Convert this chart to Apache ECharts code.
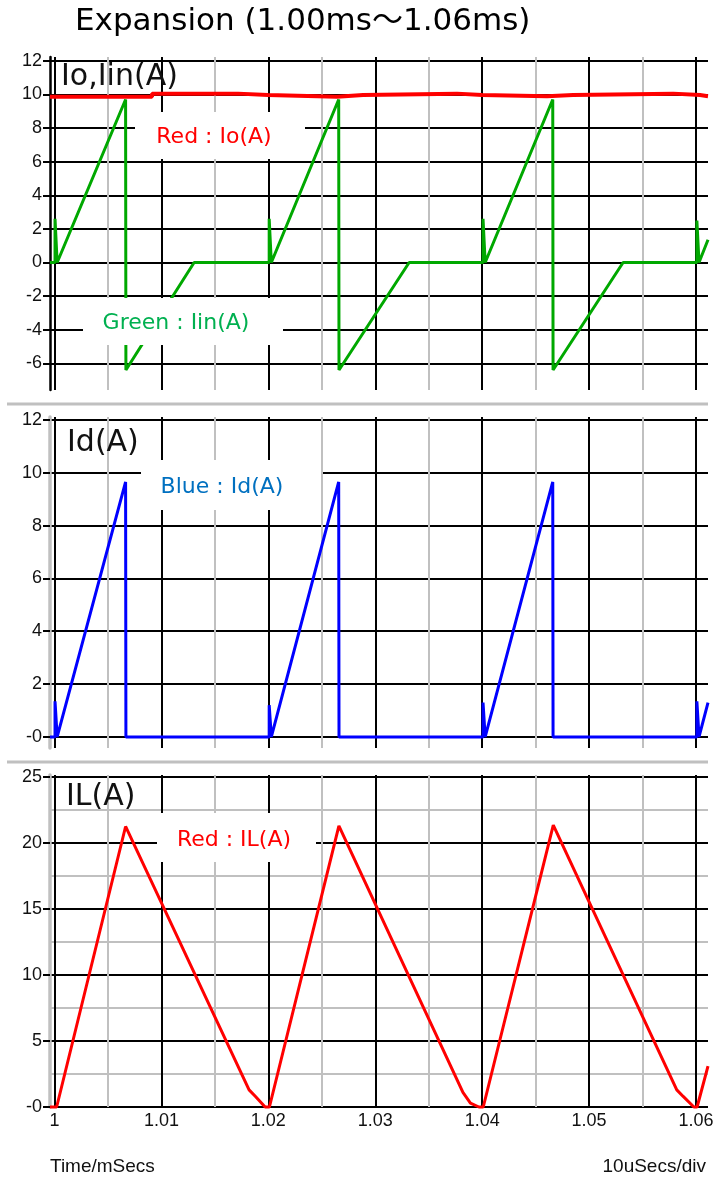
<!DOCTYPE html>
<html><head><meta charset="utf-8">
<script src="https://cdn.jsdelivr.net/npm/echarts@6/dist/echarts.min.js"></script>
<style>html,body{margin:0;padding:0;background:#fff}#c{width:722px;height:1178px}</style>
</head><body><div id="c"></div>
<script>
// ---- axis ranges & ticks ----
const xRange = [0.99958, 1.06112];
const xGridTicks = [1.000, 1.005, 1.010, 1.015, 1.020, 1.025, 1.030, 1.035, 1.040, 1.045, 1.050, 1.055, 1.060];
const xLabelTicks = [1.00, 1.01, 1.02, 1.03, 1.04, 1.05, 1.06];
const xLabels = ['1', '1.01', '1.02', '1.03', '1.04', '1.05', '1.06'];

const y1Range = [-7.59, 12.23];
const y1Ticks = [-6, -4, -2, 0, 2, 4, 6, 8, 10, 12];
const y1Labels = ['-6', '-4', '-2', '0', '2', '4', '6', '8', '10', '12'];

const y2Range = [-0.42, 12.11];
const y2Ticks = [0, 2, 4, 6, 8, 10, 12];
const y2Labels = ['-0', '2', '4', '6', '8', '10', '12'];

const y3Range = [0, 25.15];
const y3GridTicks = [0, 2.5, 5, 7.5, 10, 12.5, 15, 17.5, 20, 22.5, 25];
const y3Ticks = [0, 5, 10, 15, 20, 25];
const y3Labels = ['-0', '5', '10', '15', '20', '25'];

// ---- series values (time in ms, current in A) ----
const ioTime = [0.99958, 1.00912, 1.01717, 1.01997, 1.02643, 1.02886, 1.03765, 1.03999, 1.04607, 1.04850, 1.05786, 1.06038, 1.06112];
const ioAmps = [9.87, 10.05, 9.97, 9.87, 9.97, 10.05, 9.97, 9.90, 9.97, 10.05, 9.97, 9.90, 9.90];

const iinTime = [0.99958, 1.00005, 1.00005, 1.00025, 1.00665, 1.00668, 1.01306, 1.02008, 1.02008, 1.02028, 1.02658, 1.02661, 1.03317, 1.04008, 1.04008, 1.04028, 1.04660, 1.04663, 1.05318, 1.06008, 1.06008, 1.06028, 1.06112];
const iinAmps = [0, 0, 2.6, 0, 9.7, -6.4, 0, 0, 2.6, 0, 9.7, -6.4, 0, 0, 2.6, 0, 9.7, -6.4, 0, 0, 2.5, 0, 1.35];

const idTime = [0.99958, 1.00005, 1.00005, 1.00025, 1.00665, 1.00668, 1.02008, 1.02008, 1.02028, 1.02658, 1.02661, 1.04008, 1.04008, 1.04028, 1.04660, 1.04663, 1.06008, 1.06008, 1.06028, 1.06112];
const idAmps = [0, 0, 1.35, 0, 9.65, 0, 0, 1.2, 0, 9.65, 0, 0, 1.3, 0, 9.65, 0, 0, 1.35, 0, 1.3];

const ilTime = [0.99958, 1.0002, 1.00665, 1.0182, 1.0188, 1.0197, 1.0201, 1.02660, 1.0382, 1.0389, 1.0397, 1.0401, 1.04665, 1.0582, 1.0588, 1.0598, 1.0601, 1.06112];
const ilAmps = [0, 0, 21.25, 1.3, 0.8, 0, 0, 21.3, 1.1, 0.3, 0, 0, 21.35, 1.3, 0.8, 0, 0, 3.1];

const zip = (t, v) => t.map((x, i) => [x, v[i]]);
const lookup = (ticks, labels) => (v) => { const i = ticks.findIndex(t => Math.abs(t - v) < 1e-9); return i < 0 ? '' : labels[i]; };

const BLACK = '#000', GRAY = '#c0c0c0';
const tickFont = { fontFamily: 'Liberation Sans', fontSize: 18, color: '#111' };
const grids = [
  { left: 50, right: 14, top: 57, height: 333 },
  { left: 50, right: 14, top: 417, height: 331 },
  { left: 50, right: 14, top: 775, height: 332 }
];

function xAxisFor(gi, withLabels) {
  return {
    type: 'value', gridIndex: gi, min: xRange[0], max: xRange[1],
    axisLine: { show: false },
    axisTick: { show: false, customValues: xGridTicks },
    splitLine: { show: true, lineStyle: { color: [BLACK, GRAY], width: 2 } },
    axisLabel: withLabels ? Object.assign({ show: true, customValues: xLabelTicks, margin: 5, formatter: lookup(xLabelTicks, xLabels) }, tickFont) : { show: false }
  };
}

const option = {
  animation: false,
  backgroundColor: '#fff',
  grid: grids,
  xAxis: [xAxisFor(0, false), xAxisFor(1, false), xAxisFor(2, true)],
  yAxis: [
    { type: 'value', gridIndex: 0, min: y1Range[0], max: y1Range[1], position: 'left',
      axisLine: { show: true, lineStyle: { color: BLACK, width: 2.5 } },
      axisTick: { show: true, customValues: y1Ticks, length: 7, lineStyle: { color: BLACK, width: 2 } },
      axisLabel: Object.assign({ customValues: y1Ticks, margin: 8, formatter: lookup(y1Ticks, y1Labels) }, tickFont),
      splitLine: { show: true, lineStyle: { color: BLACK, width: 2 } } },
    { type: 'value', gridIndex: 1, min: y2Range[0], max: y2Range[1], position: 'left',
      axisLine: { show: true, lineStyle: { color: GRAY, width: 3.5 } },
      axisTick: { show: true, customValues: y2Ticks, length: 7, lineStyle: { color: BLACK, width: 2 } },
      axisLabel: Object.assign({ customValues: y2Ticks, margin: 8, formatter: lookup(y2Ticks, y2Labels) }, tickFont),
      splitLine: { show: true, lineStyle: { color: BLACK, width: 2 } } },
    { type: 'value', gridIndex: 2, min: y3Range[0], max: y3Range[1], position: 'left',
      axisLine: { show: false },
      axisTick: { show: false, customValues: y3GridTicks },
      axisLabel: { show: false },
      splitLine: { show: true, lineStyle: { color: [BLACK, GRAY], width: 2 } } },
    { type: 'value', gridIndex: 2, min: y3Range[0], max: y3Range[1], position: 'left', offset: 0,
      axisLine: { show: true, lineStyle: { color: GRAY, width: 3.5 } },
      axisTick: { show: true, customValues: y3Ticks, length: 7, lineStyle: { color: BLACK, width: 2 } },
      axisLabel: Object.assign({ customValues: y3Ticks, margin: 8, formatter: lookup(y3Ticks, y3Labels) }, tickFont),
      splitLine: { show: false } }
  ],
  series: [
    { type: 'line', xAxisIndex: 0, yAxisIndex: 0, data: zip(ioTime, ioAmps), step: 'end', showSymbol: false, symbol: 'none', clip: false, lineStyle: { color: '#ff0000', width: 4 }, z: 3 },
    { type: 'line', xAxisIndex: 0, yAxisIndex: 0, data: zip(iinTime, iinAmps), showSymbol: false, symbol: 'none', clip: false, lineStyle: { color: '#00a800', width: 3 }, z: 2 },
    { type: 'line', xAxisIndex: 1, yAxisIndex: 1, data: zip(idTime, idAmps), showSymbol: false, symbol: 'none', clip: false, lineStyle: { color: '#0000ff', width: 3 }, z: 2 },
    { type: 'line', xAxisIndex: 2, yAxisIndex: 2, data: zip(ilTime, ilAmps), showSymbol: false, symbol: 'none', clip: false, lineStyle: { color: '#ff0000', width: 3 }, z: 2 }
  ],
  graphic: [
    { type: 'line', z: 50, shape: { x1: 7, y1: 404, x2: 708, y2: 404 }, style: { stroke: GRAY, lineWidth: 3 } },
    { type: 'line', z: 50, shape: { x1: 7, y1: 762, x2: 708, y2: 762 }, style: { stroke: GRAY, lineWidth: 3 } },
    { type: 'text', z: 100, style: { text: 'Expansion (1.00ms～1.06ms)', x: 75, y: 22, textVerticalAlign: 'middle', fill: '#000', fontSize: 31, fontFamily: '"DejaVu Sans","Noto Sans CJK JP"' } },
    { type: 'text', z: 100, style: { text: 'Io,Iin(A)', x: 61, y: 77, textVerticalAlign: 'middle', fill: '#111', fontSize: 30, fontFamily: 'DejaVu Sans' } },
    { type: 'text', z: 100, style: { text: 'Id(A)', x: 67, y: 443, textVerticalAlign: 'middle', fill: '#111', fontSize: 30, fontFamily: 'DejaVu Sans' } },
    { type: 'text', z: 100, style: { text: 'IL(A)', x: 66, y: 797, textVerticalAlign: 'middle', fill: '#111', fontSize: 30, fontFamily: 'DejaVu Sans' } },
    { type: 'rect', z: 90, shape: { x: 135, y: 112, width: 170, height: 47 }, style: { fill: '#fff' } },
    { type: 'text', z: 100, style: { text: 'Red : Io(A)', x: 214, y: 137, textAlign: 'center', textVerticalAlign: 'middle', fill: '#ff0000', fontSize: 22, fontFamily: 'DejaVu Sans' } },
    { type: 'rect', z: 90, shape: { x: 83, y: 298, width: 200, height: 47 }, style: { fill: '#fff' } },
    { type: 'text', z: 100, style: { text: 'Green : Iin(A)', x: 176, y: 323, textAlign: 'center', textVerticalAlign: 'middle', fill: '#00b050', fontSize: 22, fontFamily: 'DejaVu Sans' } },
    { type: 'rect', z: 90, shape: { x: 141, y: 460, width: 180, height: 50 }, style: { fill: '#fff' } },
    { type: 'text', z: 100, style: { text: 'Blue : Id(A)', x: 222, y: 487, textAlign: 'center', textVerticalAlign: 'middle', fill: '#0070c0', fontSize: 22, fontFamily: 'DejaVu Sans' } },
    { type: 'rect', z: 90, shape: { x: 157, y: 813, width: 159, height: 49 }, style: { fill: '#fff' } },
    { type: 'text', z: 100, style: { text: 'Red : IL(A)', x: 234, y: 840, textAlign: 'center', textVerticalAlign: 'middle', fill: '#ff0000', fontSize: 22, fontFamily: 'DejaVu Sans' } },
    { type: 'text', z: 100, style: { text: 'Time/mSecs', x: 50, y: 1167, textVerticalAlign: 'middle', fill: '#111', fontSize: 19, fontFamily: 'Liberation Sans' } },
    { type: 'text', z: 100, style: { text: '10uSecs/div', x: 706, y: 1167, textAlign: 'right', textVerticalAlign: 'middle', fill: '#111', fontSize: 19, fontFamily: 'Liberation Sans' } }
  ]
};
const chart = echarts.init(document.getElementById('c'), null, { renderer: 'canvas' });
chart.setOption(option);
</script></body></html>
